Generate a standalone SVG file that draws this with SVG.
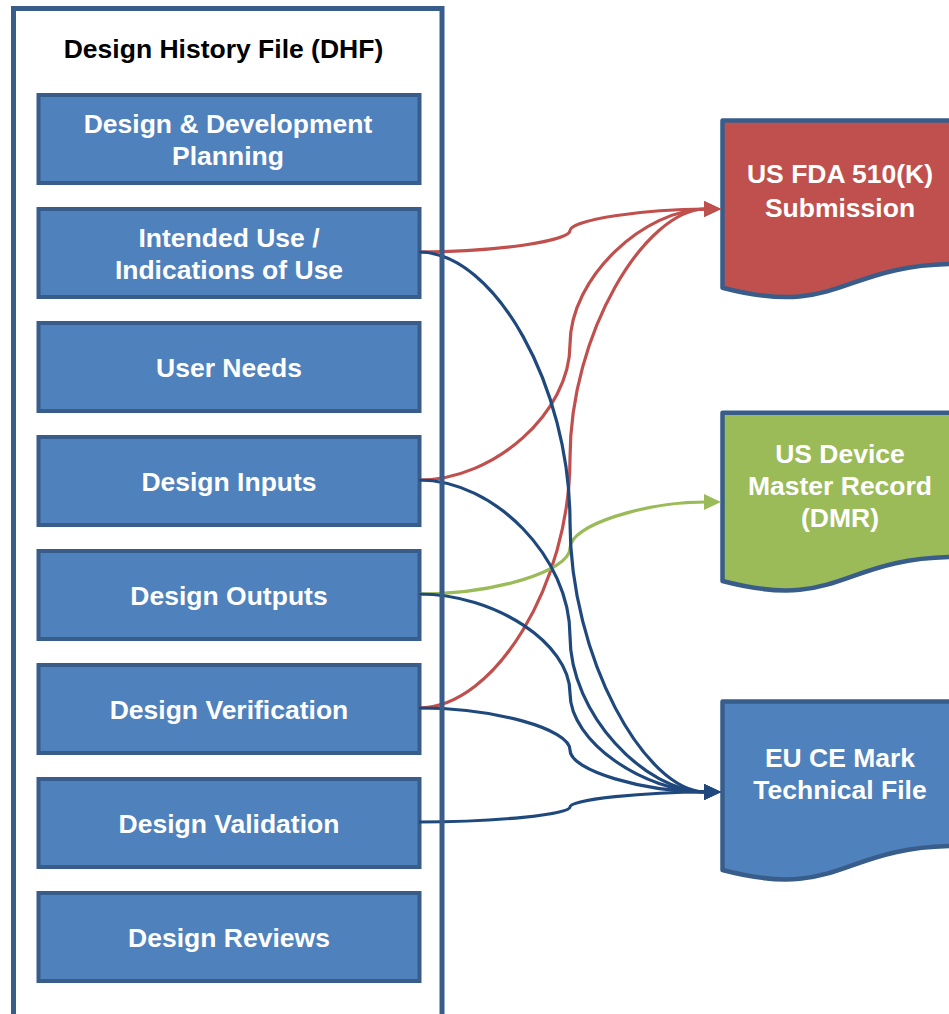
<svg xmlns="http://www.w3.org/2000/svg" width="949" height="1014" viewBox="0 0 949 1014">
<style>
.box{fill:#4F81BD;stroke:#385D8A;stroke-width:4}
.doc{stroke:#385D8A;stroke-width:4.5;stroke-linejoin:round}
.t{font-family:"Liberation Sans",Arial,sans-serif;font-weight:bold;font-size:26.5px;fill:#FFFFFF;text-anchor:middle}
.title{font-family:"Liberation Sans",Arial,sans-serif;font-weight:bold;font-size:26.5px;fill:#000000;text-anchor:middle}
.c{fill:none;stroke-width:3.2}
.red{stroke:#C0504D}
.green{stroke:#9BBB59}
.blue{stroke:#1F497D}
</style>
<defs>
<marker id="ar" markerUnits="userSpaceOnUse" markerWidth="17" markerHeight="16" refX="2" refY="8" orient="auto"><path d="M0,0 L17,8 L0,16 z" fill="#C0504D"/></marker>
<marker id="ag" markerUnits="userSpaceOnUse" markerWidth="17" markerHeight="16" refX="2" refY="8" orient="auto"><path d="M0,0 L17,8 L0,16 z" fill="#9BBB59"/></marker>
<marker id="ab" markerUnits="userSpaceOnUse" markerWidth="17" markerHeight="16" refX="2" refY="8" orient="auto"><path d="M0,0 L17,8 L0,16 z" fill="#1F497D"/></marker>
</defs>
<rect width="949" height="1014" fill="#FFFFFF"/>
<g id="dhf">
<rect x="13.5" y="8.5" width="428.5" height="1015" fill="#FFFFFF"/>
<text class="title" x="223.5" y="58">Design History File (DHF)</text>
</g>
<g id="planning"><rect class="box" x="38.5" y="95" width="381" height="88"/><text class="t" x="228"><tspan x="228" y="132.5">Design &amp; Development</tspan><tspan x="228" y="164.5">Planning</tspan></text></g>
<g id="intended-use"><rect class="box" x="38.5" y="209" width="381" height="88"/><text class="t" x="229"><tspan x="229" y="246.5">Intended Use /</tspan><tspan x="229" y="278.5">Indications of Use</tspan></text></g>
<g id="user-needs"><rect class="box" x="38.5" y="323" width="381" height="88"/><text class="t" x="229" y="376.5">User Needs</text></g>
<g id="design-inputs"><rect class="box" x="38.5" y="437" width="381" height="88"/><text class="t" x="229" y="490.5">Design Inputs</text></g>
<g id="design-outputs"><rect class="box" x="38.5" y="551" width="381" height="88"/><text class="t" x="229" y="604.5">Design Outputs</text></g>
<g id="design-verification"><rect class="box" x="38.5" y="665" width="381" height="88"/><text class="t" x="229" y="718.5">Design Verification</text></g>
<g id="design-validation"><rect class="box" x="38.5" y="779" width="381" height="88"/><text class="t" x="229" y="832.5">Design Validation</text></g>
<g id="design-reviews"><rect class="box" x="38.5" y="893" width="381" height="88"/><text class="t" x="229" y="946.5">Design Reviews</text></g>

<g id="fda">
<path class="doc" fill="#C0504D" d="M722.5,120.5 L957.5,120.5 L957.5,264 C840,264 840,318.5 722.5,287.7 Z"/>
<text class="t"><tspan x="840" y="183.3">US FDA 510(K)</tspan><tspan x="840" y="216.7">Submission</tspan></text>
</g>
<g id="dmr">
<path class="doc" fill="#9BBB59" d="M722.5,412.8 L957.5,412.8 L957.5,557 C840,557 840,612 722.5,581 Z"/>
<text class="t"><tspan x="840" y="462.7">US Device</tspan><tspan x="840" y="495">Master Record</tspan><tspan x="840" y="526.7">(DMR)</tspan></text>
</g>
<g id="eu">
<path class="doc" fill="#4F81BD" d="M722.5,701.5 L957.5,701.5 L957.5,846 C840,846 840,901 722.5,870 Z"/>
<text class="t"><tspan x="840" y="767.3">EU CE Mark</tspan><tspan x="840" y="799.3">Technical File</tspan></text>
</g>

<g id="connectors">
<path class="c red" marker-end="url(#ar)" d="M419,252 C495,252 570,241.25 570,230.5 C570,219.75 645,209 706,209"/>
<path class="c red" marker-end="url(#ar)" d="M419,480 C495,480 570,412.25 570,344.5 C570,276.75 645,209 706,209"/>
<path class="c red" marker-end="url(#ar)" d="M419,708 C495,708 570,583.25 570,458.5 C570,333.75 645,209 706,209"/>
<path class="c green" marker-end="url(#ag)" d="M419,594 C495,594 570,571 570,548 C570,525 645,502 706,502"/>
<path class="c blue" marker-end="url(#ab)" d="M419,252 C495,252 570,387 570,522 C570,657 645,792 706,792"/>
<path class="c blue" marker-end="url(#ab)" d="M419,480 C495,480 570,558 570,636 C570,714 645,792 706,792"/>
<path class="c blue" marker-end="url(#ab)" d="M419,594 C495,594 570,643.5 570,693 C570,742.5 645,792 706,792"/>
<path class="c blue" marker-end="url(#ab)" d="M419,708 C495,708 570,729 570,750 C570,771 645,792 706,792"/>
<path class="c blue" marker-end="url(#ab)" d="M419,822 C495,822 570,814.5 570,807 C570,799.5 645,792 706,792"/>
</g>
<rect id="dhf-border" x="13.5" y="8.5" width="428.5" height="1015" fill="none" stroke="#385D8A" stroke-width="5"/>
</svg>
